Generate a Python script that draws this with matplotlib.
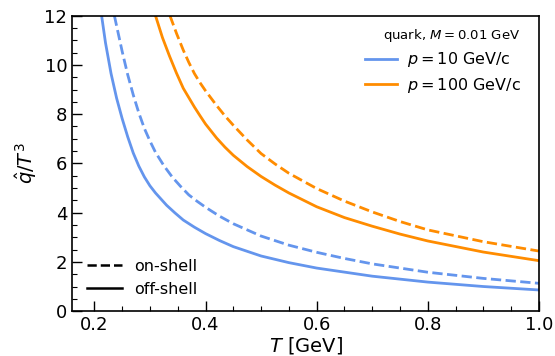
import numpy as np
import matplotlib.pyplot as plt
from matplotlib.lines import Line2D

# qhat/T^3 vs T, quark M = 0.01 GeV
T_p10_off = [0.213, 0.22, 0.23, 0.24, 0.25, 0.26, 0.27, 0.28, 0.29, 0.30, 0.31, 0.33, 0.345, 0.36, 0.38,
             0.40, 0.425, 0.45, 0.50, 0.55, 0.60, 0.70, 0.80, 0.90, 1.0]
q_p10_off = [12.0, 10.9, 9.65, 8.65, 7.82, 7.08, 6.42, 5.89, 5.45, 5.09, 4.80, 4.30, 3.99, 3.70, 3.41,
             3.15, 2.87, 2.62, 2.24, 1.97, 1.75, 1.42, 1.18, 1.00, 0.86]

T_p10_on = [0.236, 0.25, 0.26, 0.27, 0.28, 0.29, 0.30, 0.31, 0.325, 0.34, 0.355, 0.37, 0.385,
            0.40, 0.425, 0.45, 0.50, 0.55, 0.60, 0.65, 0.70, 0.80, 0.90, 1.0]
q_p10_on = [12.0, 10.55, 9.60, 8.78, 8.05, 7.42, 6.91, 6.45, 5.91, 5.45, 5.07, 4.72, 4.46,
            4.22, 3.86, 3.55, 3.05, 2.68, 2.39, 2.14, 1.92, 1.58, 1.33, 1.13]

T_p100_off = [0.31, 0.3225, 0.335, 0.3475, 0.36, 0.38, 0.39, 0.40, 0.42, 0.435, 0.45, 0.475, 0.50,
              0.525, 0.55, 0.60, 0.65, 0.70, 0.75, 0.80, 0.90, 1.0]
q_p100_off = [12.0, 11.11, 10.37, 9.68, 9.05, 8.29, 7.94, 7.60, 7.03, 6.66, 6.33, 5.87, 5.47,
              5.12, 4.80, 4.24, 3.80, 3.45, 3.13, 2.85, 2.40, 2.05]

T_p100_on = [0.336, 0.348, 0.36, 0.37, 0.38, 0.39, 0.40, 0.42, 0.435, 0.45, 0.475, 0.50, 0.525,
             0.55, 0.60, 0.65, 0.70, 0.75, 0.80, 0.90, 1.0]
q_p100_on = [12.0, 11.27, 10.6, 10.10, 9.65, 9.28, 8.95, 8.35, 7.93, 7.55, 6.95, 6.40, 5.98,
             5.60, 4.98, 4.47, 4.03, 3.64, 3.30, 2.82, 2.44]

azul = 'cornflowerblue'
naranja = 'darkorange'

fig = plt.figure(figsize=(5.55, 3.56), dpi=100)
ax = fig.add_axes([0.13, 0.126, 0.841, 0.83])

l1, = ax.plot(T_p10_off, q_p10_off, '-', color=azul, lw=2)
ax.plot(T_p10_on, q_p10_on, '--', color=azul, lw=2)
l2, = ax.plot(T_p100_off, q_p100_off, '-', color=naranja, lw=2)
ax.plot(T_p100_on, q_p100_on, '--', color=naranja, lw=2)

ax.set_xlim(0.16, 1.0)
ax.set_ylim(0, 12)
ax.set_xticks([0.2, 0.4, 0.6, 0.8, 1.0])
ax.set_yticks([0, 2, 4, 6, 8, 10, 12])
ax.minorticks_on()
ax.xaxis.set_minor_locator(plt.MultipleLocator(0.05))
ax.yaxis.set_minor_locator(plt.MultipleLocator(0.5))
ax.tick_params(which='both', direction='in', labelsize=13)
ax.tick_params(which='major', length=7, width=1)
ax.tick_params(which='minor', length=3.5, width=0.8)
for s in ax.spines.values():
    s.set_linewidth(1.2)

ax.set_xlabel(r'$T$ [GeV]', fontsize=14, labelpad=1)
ax.set_ylabel(r'$\hat{q}/T^3$', fontsize=14, labelpad=4)

leg1 = ax.legend([l1, l2], [r'$p = 10$ GeV/c', r'$p = 100$ GeV/c'],
                 title=r'quark, $M = 0.01$ GeV', title_fontsize=9.5,
                 fontsize=11.5, loc='upper right', frameon=False,
                 handlelength=2.0, handletextpad=0.6, labelspacing=0.4,
                 borderaxespad=0.3, bbox_to_anchor=(0.985, 1.0))
leg1._legend_box.align = 'right'
ax.add_artist(leg1)

estilos = [Line2D([], [], color='k', ls='--', lw=1.8),
           Line2D([], [], color='k', ls='-', lw=1.8)]
ax.legend(estilos, ['on-shell', 'off-shell'], fontsize=11.5,
          loc='lower left', frameon=False, handlelength=2.2)

plt.savefig('out.png')
